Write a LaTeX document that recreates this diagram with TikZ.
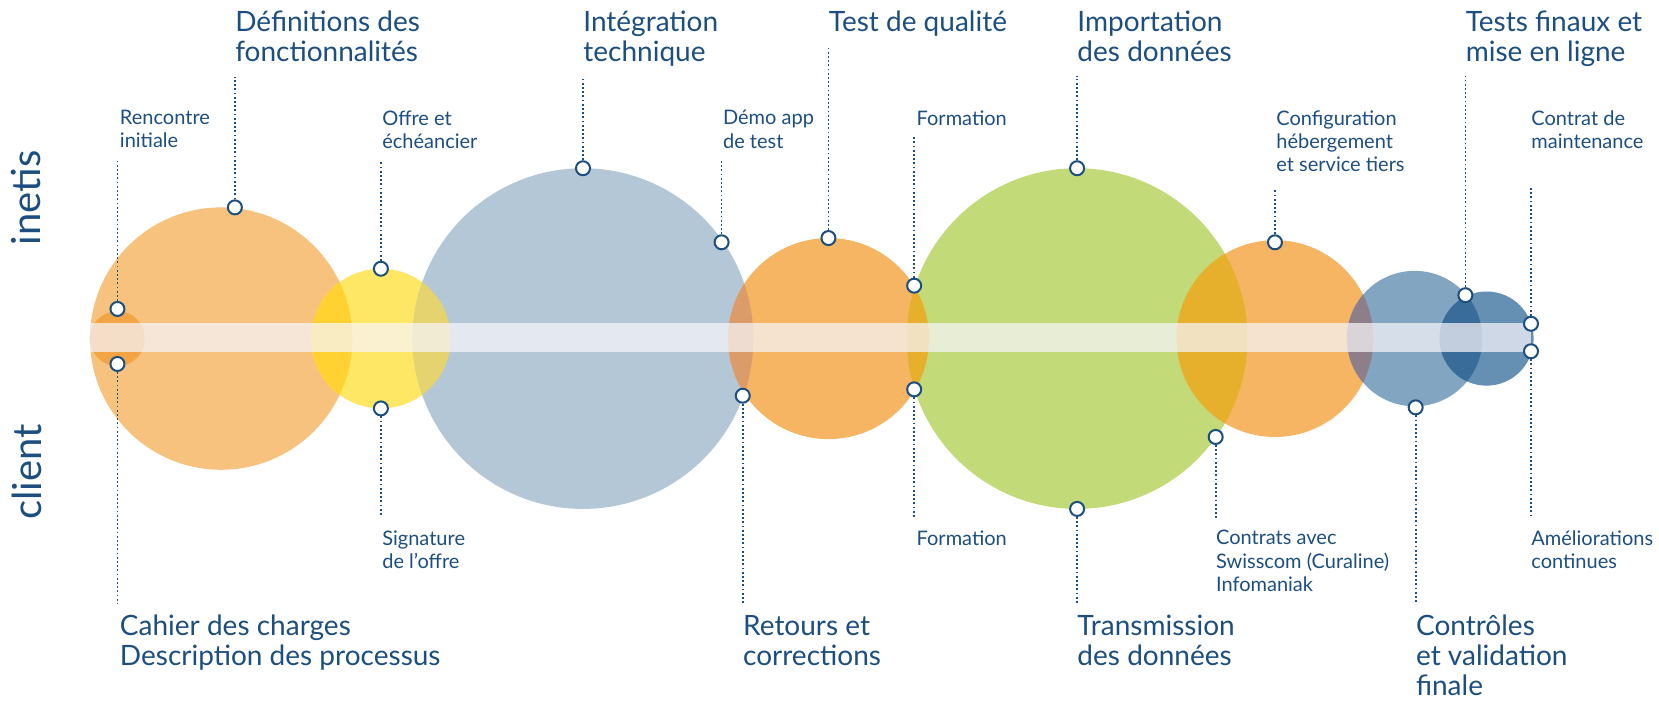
\documentclass[tikz,border=0pt]{standalone}
\usepackage{fontspec}
\setmainfont{Lato}
\usetikzlibrary{positioning}

\definecolor{navy}{HTML}{1C4E80}
\definecolor{peach}{HTML}{F6C27E}
\definecolor{apricot}{HTML}{F3A444}
\definecolor{lemon}{HTML}{FFE766}
\definecolor{slate}{HTML}{B3C7D7}
\definecolor{tangerine}{HTML}{F5B563}
\definecolor{lime}{HTML}{C3DA78}
\definecolor{steel}{HTML}{82A5C2}
\definecolor{denim}{HTML}{6690B3}
\definecolor{gold}{HTML}{FFD232}
\definecolor{olive}{HTML}{E4D36E}
\definecolor{clay}{HTML}{DC9C6A}
\definecolor{mustard}{HTML}{E6B02C}
\definecolor{mauve}{HTML}{8E7E8A}
\definecolor{deepblue}{HTML}{3A6C99}
\definecolor{bandcol}{HTML}{F7F5FA}

\begin{document}
\begin{tikzpicture}[
		x=0.529pt, y=-0.529pt,
		big/.style ={
			anchor=north west,	inner sep=0pt,	align=left,
			text=navy,	font=\fontsize{14}{15}\selectfont
		},
		small/.style ={
			anchor=north west,	inner sep=0pt,	align=left,
			text=navy,	font=\fontsize{10}{11.6}\selectfont
		},
		side/.style ={
			rotate=90,	inner sep=0pt,
			text=navy,	font=\fontsize{20}{20}\selectfont
		},
		pin/.style ={
			circle,		draw=navy,		fill=white,
			line width=1pt,	inner sep=0pt,	minimum size=7pt
		},
		lead/.style ={
			draw=navy,	line width=0.9pt,	dash pattern=on 0.9pt off 1.2pt
		},
	]

	\newcommand{\bandy}{320}

	\useasboundingbox (0,0) rectangle (1568,662.6);

	% circles
	\foreach \cx/\r/\col in {209/124/peach, 111/26/apricot, 360/66/lemon,
		551/161/slate, 783/95/tangerine, 1018/161/lime, 1205/93/tangerine,
		1337/64/steel, 1405/44.5/denim}
		\fill [\col] (\cx,\bandy) circle (\r);

	% overlaps
	\foreach \xa/\ra/\xb/\rb/\col in {209/124/360/66/gold, 360/66/551/161/olive,
		551/161/783/95/clay, 783/95/1018/161/mustard, 1018/161/1205/93/mustard,
		1205/93/1337/64/mauve, 1337/64/1405/44.5/deepblue}
	{
		\begin{scope}
			\clip (\xa,\bandy) circle (\ra);
			\fill [\col] (\xb,\bandy) circle (\rb);
		\end{scope}
	}

	% band
	\fill [bandcol, opacity=0.72] (85,305.5) rectangle (1447,332.5);

	% pins and leads
	\foreach \n/\x/\y/\e in {rencontre/111/292/152, definitions/222/196/73,
		offre/360/254/152, integration/551/159/75, demo/682/229/152,
		qualite/783/225/45, formationA/864/270/128, importation/1018/159/72,
		config/1205/229/178, finaux/1385/279/72, maintenance/1447/306/178,
		cahier/111/344/571, signature/360/386/487, retours/702/374/571,
		formationB/864/368/490, transmission/1018/481/571, contrats/1149/413/490,
		controles/1338/385/571, ameliorations/1447/332/490}
	{
		\node (pin-\n) at (\x,\y) [pin] {};
		\coordinate (end-\n) at (\x,\e);
		\draw [lead] (pin-\n) -- (end-\n);
	}

	% side labels
	\node (inetis) at (25,187) [side] {inetis};
	\node (client) at (25,446) [side] {client};

	% top labels
	\node (t-definitions) at (222,10) [big] {Définitions des\\fonctionnalités};
	\node (t-integration) at (551,10) [big] {Intégration\\technique};
	\node (t-qualite) at (783,10) [big] {Test de qualité};
	\node (t-importation) at (1018,10) [big] {Importation\\des données};
	\node (t-finaux) at (1385,10) [big] {Tests finaux et\\mise en ligne};

	\node (t-rencontre) at (113,104) [small] {Rencontre\\initiale};
	\node (t-offre) at (361,104) [small] {Offre et\\échéancier};
	\node (t-demo) at (683,104) [small] {Démo app\\de test};
	\node (t-formationA) at (866,104) [small] {Formation};
	\node (t-config) at (1206,104) [small] {Configuration\\hébergement\\et service tiers};
	\node (t-maintenance) at (1447,104) [small] {Contrat de\\maintenance};

	% bottom labels
	\node (t-signature) at (361,501) [small] {Signature\\de l’offre};
	\node (t-formationB) at (866,501) [small] {Formation};
	\node (t-contrats) at (1149,501) [small] {Contrats avec\\Swisscom (Curaline)\\Infomaniak};
	\node (t-ameliorations) at (1447,501) [small] {Améliorations\\continues};

	\node (t-cahier) at (113,581) [big] {Cahier des charges\\Description des processus};
	\node (t-retours) at (702,581) [big] {Retours et\\corrections};
	\node (t-transmission) at (1018,581) [big] {Transmission\\des données};
	\node (t-controles) at (1338,581) [big] {Contrôles\\et validation\\finale};

\end{tikzpicture}
\end{document}
